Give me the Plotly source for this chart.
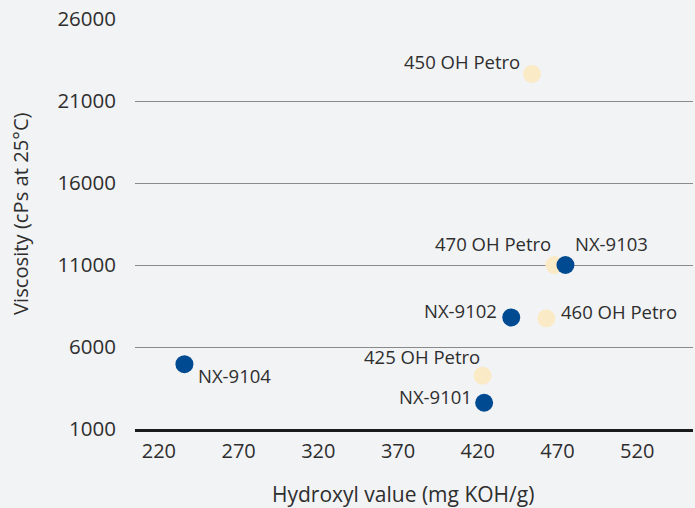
import plotly.graph_objects as go

# Data
nx_names = ["NX-9101", "NX-9102", "NX-9103", "NX-9104"]
nx_hydroxyl = [424, 441, 475, 236]
nx_viscosity = [2600, 7800, 11000, 4950]

petro_names = ["425 OH Petro", "450 OH Petro", "460 OH Petro", "470 OH Petro"]
petro_hydroxyl = [423, 454, 463, 468]
petro_viscosity = [4250, 22650, 7750, 11000]

x_ticks = [220, 270, 320, 370, 420, 470, 520]
y_ticks = [1000, 6000, 11000, 16000, 21000, 26000]

x_title = "Hydroxyl value (mg KOH/g)"
y_title = "Viscosity (cPs at 25°C)"

# label placement: (xanchor, yanchor, xshift, yshift)
nx_label_pos = {
    "NX-9101": ("right", "middle", -10, 6),
    "NX-9102": ("right", "middle", -12, 7),
    "NX-9103": ("left", "middle", 8, 22),
    "NX-9104": ("left", "middle", 12, -11),
}
petro_label_pos = {
    "425 OH Petro": ("right", "middle", -1, 19),
    "450 OH Petro": ("right", "middle", -10, 12),
    "460 OH Petro": ("left", "middle", 13, 7),
    "470 OH Petro": ("right", "middle", -1, 22),
}

NAVY = "#004a91"
CREAM = "#fbeac6"
FONT = "Open Sans"
TEXT = "#2e2e2e"

fig = go.Figure()
fig.add_trace(go.Scatter(
    x=petro_hydroxyl, y=petro_viscosity, mode="markers", name="Petro",
    marker=dict(color=CREAM, size=18, line=dict(width=0)),
    hoverinfo="skip", cliponaxis=False,
))
fig.add_trace(go.Scatter(
    x=nx_hydroxyl, y=nx_viscosity, mode="markers", name="NX",
    marker=dict(color=NAVY, size=18, line=dict(width=0)),
    hoverinfo="skip", cliponaxis=False,
))

annotations = []
for names, xs, ys, pos in [(nx_names, nx_hydroxyl, nx_viscosity, nx_label_pos),
                           (petro_names, petro_hydroxyl, petro_viscosity, petro_label_pos)]:
    for n, x, y in zip(names, xs, ys):
        xa, ya, dx, dy = pos[n]
        annotations.append(dict(
            x=x, y=y, xref="x", yref="y", text=n, showarrow=False,
            xanchor=xa, yanchor=ya, xshift=dx, yshift=dy,
            font=dict(family=FONT, size=18.5, color=TEXT),
        ))

# axis titles (placed as paper annotations to match the reference offsets)
annotations.append(dict(
    x=0.48, y=-0.158, xref="paper", yref="paper", text=x_title, showarrow=False,
    xanchor="center", yanchor="middle",
    font=dict(family=FONT, size=21, color=TEXT),
))
annotations.append(dict(
    x=-0.205, y=0.526, xref="paper", yref="paper", text=y_title, showarrow=False,
    xanchor="center", yanchor="middle", textangle=-90,
    font=dict(family=FONT, size=20.2, color=TEXT),
))

fig.update_layout(
    width=695, height=508,
    margin=dict(l=135, r=2, t=19, b=79),
    paper_bgcolor="#f2f3f5", plot_bgcolor="#f2f3f5",
    showlegend=False,
    font=dict(family=FONT, color=TEXT),
    annotations=annotations,
    xaxis=dict(
        range=[205, 555], tickvals=x_ticks, ticktext=[str(v) for v in x_ticks],
        showgrid=False, zeroline=False,
        showline=True, linecolor="#1a1a1a", linewidth=2.5,
        ticks="", ticklabelstandoff=2,
        tickfont=dict(family=FONT, size=20, color=TEXT),
    ),
    yaxis=dict(
        range=[1000, 26000], tickvals=y_ticks, ticktext=[str(v) for v in y_ticks],
        showgrid=True, gridcolor="#8a8a8a", gridwidth=1, zeroline=False,
        ticks="", ticklabelstandoff=18,
        tickfont=dict(family=FONT, size=20.5, color=TEXT),
    ),
)

fig.write_html("out.html", config={"displayModeBar": False},
               post_script="document.body.style.margin='0';")
